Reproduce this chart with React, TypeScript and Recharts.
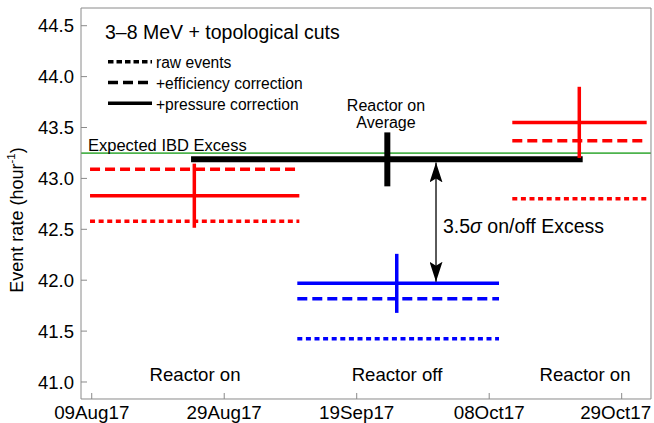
import { ComposedChart, ErrorBar, Line, Scatter, XAxis, YAxis } from "recharts";

const W = 654;
const H = 423;
const font = '"Liberation Sans", Arial, Helvetica, sans-serif';
const frame = "#8a8a8a";
// axes must have a non-zero size or Recharts skips them
const thin = 0.001;

// x is days after 09Aug17, the date ticks sit every 20.25 days
const xDomain = [-1.64, 85.48];
const yDomain = [40.833, 44.674];
const xTicks = [0, 20.25, 40.5, 60.75, 81];
const xTickLabels = ["09Aug17", "29Aug17", "19Sep17", "08Oct17", "29Oct17"];
const xMinorTicks = [4.05, 8.1, 12.15, 16.2, 24.3, 28.35, 32.4, 36.45, 44.55, 48.6, 52.65, 56.7, 64.8, 68.85, 72.9, 76.95, 85.05];
const yTicks = [41, 41.5, 42, 42.5, 43, 43.5, 44, 44.5];
const yMinorTicks = Array.from({ length: 38 }, (_, i) => +(40.9 + i * 0.1).toFixed(1)).filter(
  (v) => !yTicks.includes(v)
);

const periodNames = ["Reactor on", "Reactor off", "Reactor on"];
const periodColors = ["#ff0000", "#0000ff", "#ff0000"];
const periodStarts = [-0.26, 31.42, 64.28];
const periodEnds = [31.73, 62.25, 84.82];
const rawRates = [42.58, 41.425, 42.8];
const efficiencyRates = [43.09, 41.818, 43.37];
const pressureRates = [42.83, 41.969, 43.55];
const pressureErrors = [0.315, 0.29, 0.35];
const errorBarDays = [15.68, 46.62, 74.52];

const averageRate = 43.187;
const averageError = 0.265;
const averageDay = 45.18;
const averageStart = 15.18;
const averageEnd = 75.04;

const expectedIbd = 43.248;

const excessArrowDay = 52.62;
const excessArrowTop = 43.157;
const excessArrowBottom = 41.985;

const legendLabels = ["raw events", "+efficiency correction", "+pressure correction"];
const styleDashes = ["5 3.6", "10 5", undefined];

const rateLists = [rawRates, efficiencyRates, pressureRates];

const segments = periodNames.flatMap((_, p) =>
  rateLists.map((rates, s) => ({
    key: `p${p}s${s}`,
    color: periodColors[p],
    dash: styleDashes[s],
    data: [
      { x: periodStarts[p], y: rates[p] },
      { x: periodEnds[p], y: rates[p] },
    ],
  }))
);

const errorPoints = periodNames.map((_, p) => ({
  x: errorBarDays[p],
  y: pressureRates[p],
  err: pressureErrors[p],
  color: periodColors[p],
}));

function DateTick(props: any) {
  const { x, y, payload } = props;
  const i = xTicks.indexOf(payload.value);
  const shift = i === xTicks.length - 1 ? -6 : 0;
  return (
    <text x={x + shift} y={y} dy="0.72em" textAnchor="middle" fontSize={18.8} fill="#000" fontFamily={font}>
      {xTickLabels[i]}
    </text>
  );
}

const noShape = () => <g />;

export default function App() {
  return (
    <div style={{ position: "absolute", left: 0, top: 0, width: W, height: H, fontFamily: font, background: "#fff" }}>
      <ComposedChart width={W} height={H} margin={{ top: 8, right: 3, bottom: 24, left: 81 }}>
        <XAxis
          xAxisId="b"
          dataKey="x"
          type="number"
          domain={xDomain}
          allowDataOverflow
          ticks={xTicks}
          interval={0}
          height={thin}
          tickSize={-6}
          tickMargin={12}
          axisLine={{ stroke: frame }}
          tickLine={{ stroke: frame }}
          tick={<DateTick />}
        />
        <XAxis
          xAxisId="bm"
          type="number"
          domain={xDomain}
          allowDataOverflow
          ticks={xMinorTicks}
          interval={0}
          height={thin}
          tickSize={-3.5}
          axisLine={false}
          tickLine={{ stroke: frame }}
          tick={false}
        />
        <XAxis
          xAxisId="t"
          orientation="top"
          type="number"
          domain={xDomain}
          allowDataOverflow
          ticks={xTicks}
          interval={0}
          height={thin}
          tickSize={-6}
          axisLine={{ stroke: frame }}
          tickLine={{ stroke: frame }}
          tick={false}
        />
        <XAxis
          xAxisId="tm"
          orientation="top"
          type="number"
          domain={xDomain}
          allowDataOverflow
          ticks={xMinorTicks}
          interval={0}
          height={thin}
          tickSize={-3.5}
          axisLine={false}
          tickLine={{ stroke: frame }}
          tick={false}
        />
        <YAxis
          yAxisId="l"
          dataKey="y"
          type="number"
          domain={yDomain}
          allowDataOverflow
          ticks={yTicks}
          interval={0}
          width={thin}
          tickSize={-6}
          tickMargin={13}
          axisLine={{ stroke: frame }}
          tickLine={{ stroke: frame }}
          tick={{ fill: "#000", fontSize: 18.5 }}
          tickFormatter={(v: number) => v.toFixed(1)}
        />
        <YAxis
          yAxisId="lm"
          type="number"
          domain={yDomain}
          allowDataOverflow
          ticks={yMinorTicks}
          interval={0}
          width={thin}
          tickSize={-3.5}
          axisLine={false}
          tickLine={{ stroke: frame }}
          tick={false}
        />
        <YAxis
          yAxisId="r"
          orientation="right"
          type="number"
          domain={yDomain}
          allowDataOverflow
          ticks={yTicks}
          interval={0}
          width={thin}
          tickSize={-6}
          axisLine={{ stroke: frame }}
          tickLine={{ stroke: frame }}
          tick={false}
        />
        <YAxis
          yAxisId="rm"
          orientation="right"
          type="number"
          domain={yDomain}
          allowDataOverflow
          ticks={yMinorTicks}
          interval={0}
          width={thin}
          tickSize={-3.5}
          axisLine={false}
          tickLine={{ stroke: frame }}
          tick={false}
        />

        <Line
          xAxisId="b"
          yAxisId="l"
          data={[
            { x: xDomain[0], y: expectedIbd },
            { x: xDomain[1], y: expectedIbd },
          ]}
          dataKey="y"
          stroke="#4db34d"
          strokeWidth={1.6}
          dot={false}
          activeDot={false}
          isAnimationActive={false}
        />
        <Line
          xAxisId="b"
          yAxisId="l"
          data={[
            { x: averageStart, y: averageRate },
            { x: averageEnd, y: averageRate },
          ]}
          dataKey="y"
          stroke="#000"
          strokeWidth={6}
          dot={false}
          activeDot={false}
          isAnimationActive={false}
        />
        <Scatter
          xAxisId="b"
          yAxisId="l"
          data={[{ x: averageDay, y: averageRate, err: averageError }]}
          dataKey="y"
          shape={noShape}
          isAnimationActive={false}
        >
          <ErrorBar dataKey="err" direction="y" width={0} stroke="#000" strokeWidth={6} isAnimationActive={false} />
        </Scatter>

        {segments.map((s) => (
          <Line
            key={s.key}
            xAxisId="b"
            yAxisId="l"
            data={s.data}
            dataKey="y"
            stroke={s.color}
            strokeWidth={3.5}
            strokeDasharray={s.dash}
            dot={false}
            activeDot={false}
            isAnimationActive={false}
          />
        ))}
        {errorPoints.map((e, i) => (
          <Scatter
            key={`eb${i}`}
            xAxisId="b"
            yAxisId="l"
            data={[e]}
            dataKey="y"
            shape={noShape}
            isAnimationActive={false}
          >
            <ErrorBar dataKey="err" direction="y" width={0} stroke={e.color} strokeWidth={3.5} isAnimationActive={false} />
          </Scatter>
        ))}

        <Line
          xAxisId="b"
          yAxisId="l"
          data={[
            { x: excessArrowDay, y: excessArrowTop },
            { x: excessArrowDay, y: excessArrowBottom },
          ]}
          dataKey="y"
          stroke="#000"
          strokeWidth={1.3}
          markerStart="url(#arrowHead)"
          markerEnd="url(#arrowHead)"
          dot={false}
          activeDot={false}
          isAnimationActive={false}
        />
      </ComposedChart>

      <svg
        width={W}
        height={H}
        style={{ position: "absolute", left: 0, top: 0, pointerEvents: "none" }}
        fontFamily={font}
      >
        <defs>
          <marker
            id="arrowHead"
            viewBox="0 0 20 13"
            markerWidth={20}
            markerHeight={13}
            refX={20}
            refY={6.5}
            markerUnits="userSpaceOnUse"
            orient="auto-start-reverse"
          >
            <path d="M0,0 L20,6.5 L0,13 L4,6.5 Z" fill="#000" />
          </marker>
        </defs>

        <text x={105} y={32} fontSize={19.5} dominantBaseline="central" fill="#000">
          3–8 MeV + topological cuts
        </text>
        {legendLabels.map((label, i) => (
          <g key={label}>
            <line
              x1={108}
              x2={152}
              y1={61.7 + i * 20.8}
              y2={61.7 + i * 20.8}
              stroke="#000"
              strokeWidth={3.5}
              strokeDasharray={i === 0 ? "5.5 3" : styleDashes[i]}
            />
            <text x={156} y={62.5 + i * 20.8} fontSize={15.6} dominantBaseline="central" fill="#000">
              {label}
            </text>
          </g>
        ))}

        <text x={88} y={145} fontSize={16.5} dominantBaseline="central" fill="#000">
          Expected IBD Excess
        </text>
        <text x={386} y={105} fontSize={16} textAnchor="middle" dominantBaseline="central" fill="#000">
          Reactor on
        </text>
        <text x={386} y={122.5} fontSize={16} textAnchor="middle" dominantBaseline="central" fill="#000">
          Average
        </text>
        <text x={443} y={226} fontSize={19.5} dominantBaseline="central" fill="#000">
          3.5<tspan fontStyle="italic">σ</tspan> on/off Excess
        </text>

        {periodNames.map((name, i) => (
          <text
            key={`pn${i}`}
            x={[195, 397, 585][i]}
            y={374.5}
            fontSize={18.6}
            textAnchor="middle"
            dominantBaseline="central"
            fill="#000"
          >
            {name}
          </text>
        ))}

        <text
          transform="translate(17,220) rotate(-90)"
          fontSize={18}
          textAnchor="middle"
          dominantBaseline="central"
          fill="#000"
        >
          Event rate (hour
          <tspan dy={-6} fontSize={11.5}>
            -1
          </tspan>
          <tspan dy={6}>)</tspan>
        </text>
      </svg>
    </div>
  );
}
